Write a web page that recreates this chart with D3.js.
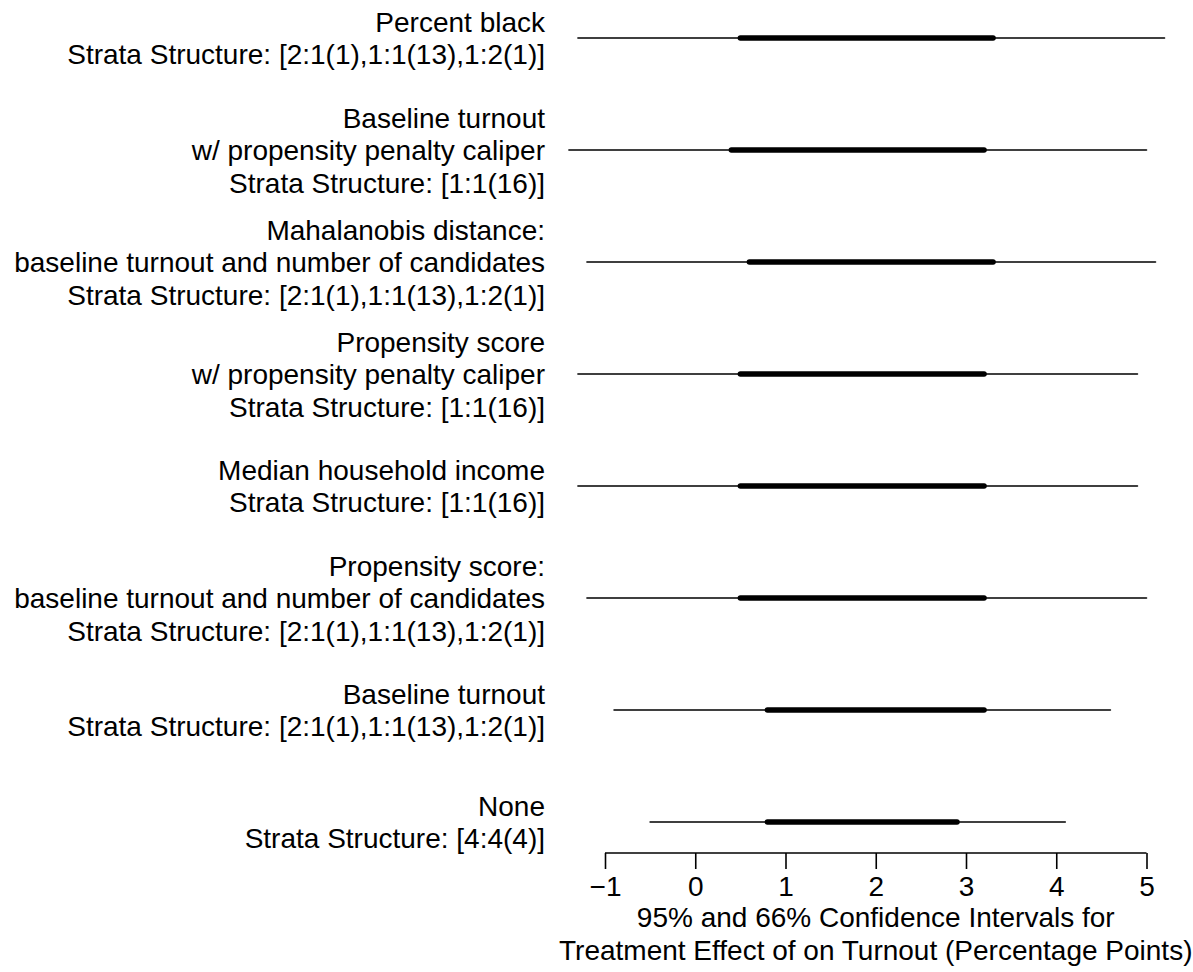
<!DOCTYPE html>
<html lang="en">
<head>
<meta charset="UTF-8">
<title>Confidence intervals by matching method</title>
<script src="https://d3js.org/d3.v7.min.js"></script>
<style>
  body { margin: 0; background: #fff; }
  text { font-family: "Liberation Sans", Arial, Helvetica, sans-serif; fill: #000; }
</style>
</head>
<body>
<svg id="chart" width="1193" height="972"></svg>
<script>
// row labels, top to bottom (each entry = lines of the label)
const methods = [
  ["Percent black", "Strata Structure: [2:1(1),1:1(13),1:2(1)]"],
  ["Baseline turnout", "w/ propensity penalty caliper", "Strata Structure: [1:1(16)]"],
  ["Mahalanobis distance:", "baseline turnout and number of candidates", "Strata Structure: [2:1(1),1:1(13),1:2(1)]"],
  ["Propensity score", "w/ propensity penalty caliper", "Strata Structure: [1:1(16)]"],
  ["Median household income", "Strata Structure: [1:1(16)]"],
  ["Propensity score:", "baseline turnout and number of candidates", "Strata Structure: [2:1(1),1:1(13),1:2(1)]"],
  ["Baseline turnout", "Strata Structure: [2:1(1),1:1(13),1:2(1)]"],
  ["None", "Strata Structure: [4:4(4)]"]
];

// 95% intervals
const ci95Low  = [-1.3, -1.4, -1.2, -1.3, -1.3, -1.2, -0.9, -0.5];
const ci95High = [ 5.2,  5.0,  5.1,  4.9,  4.9,  5.0,  4.6,  4.1];
// 66% intervals
const ci66Low  = [0.5, 0.4, 0.6, 0.5, 0.5, 0.5, 0.8, 0.8];
const ci66High = [3.3, 3.2, 3.3, 3.2, 3.2, 3.2, 3.2, 2.9];

const xTicks = [-1, 0, 1, 2, 3, 4, 5];
const xTitle = ["95% and 66% Confidence Intervals for",
                "Treatment Effect of on Turnout (Percentage Points)"];

const svg = d3.select("#chart");
const fontSize = 28, lineH = 32.5;

const x = d3.scaleLinear().domain([-1, 5]).range([605, 1146.5]);
const y = d3.scalePoint().domain(d3.range(methods.length)).range([38, 822]);

const rows = methods.map((m, i) => ({
  lines: m, lo95: ci95Low[i], hi95: ci95High[i], lo66: ci66Low[i], hi66: ci66High[i], i
}));

// thin 95% segments
svg.append("g").selectAll("line")
  .data(rows).join("line")
  .attr("x1", d => x(d.lo95)).attr("x2", d => x(d.hi95))
  .attr("y1", d => y(d.i)).attr("y2", d => y(d.i))
  .attr("stroke", "#000").attr("stroke-width", 1.6)
  .attr("stroke-linecap", "round");

// thick 66% segments
svg.append("g").selectAll("line")
  .data(rows).join("line")
  .attr("x1", d => x(d.lo66)).attr("x2", d => x(d.hi66))
  .attr("y1", d => y(d.i)).attr("y2", d => y(d.i))
  .attr("stroke", "#000").attr("stroke-width", 5.5)
  .attr("stroke-linecap", "round");

// row labels, right aligned, centred on the row
const labels = svg.append("g").selectAll("text")
  .data(rows).join("text")
  .attr("text-anchor", "end")
  .style("font-size", fontSize + "px");
labels.each(function(d) {
  const n = d.lines.length;
  const top = y(d.i) - (n - 1) * lineH / 2 + 10;
  d3.select(this).selectAll("tspan")
    .data(d.lines).join("tspan")
    .attr("x", 545)
    .attr("y", (t, k) => top + k * lineH)
    .text(t => t);
});

// x axis
const axisY = 853;
const axis = svg.append("g")
  .attr("transform", `translate(0,${axisY})`)
  .call(d3.axisBottom(x).tickValues(xTicks).tickSizeOuter(0).tickSize(16)
        .tickFormat(d => d < 0 ? "\u2212" + Math.abs(d) : d));
axis.select(".domain").attr("stroke", "#000").attr("stroke-width", 1.6)
  .attr("d", `M${x(-1)},0H${x(5)}`);
axis.selectAll(".tick line").attr("stroke", "#000").attr("stroke-width", 1.6);
axis.selectAll(".tick text")
  .attr("y", 0).attr("dy", null)
  .attr("transform", "translate(0,43)")
  .style("font-size", fontSize + "px")
  .style("font-family", "Liberation Sans, Arial, sans-serif");

// axis title
svg.append("g").selectAll("text")
  .data(xTitle).join("text")
  .attr("x", x(2))
  .attr("y", (t, k) => 927 + k * 33)
  .attr("text-anchor", "middle")
  .style("font-size", fontSize + "px")
  .text(t => t);
</script>
</body>
</html>
